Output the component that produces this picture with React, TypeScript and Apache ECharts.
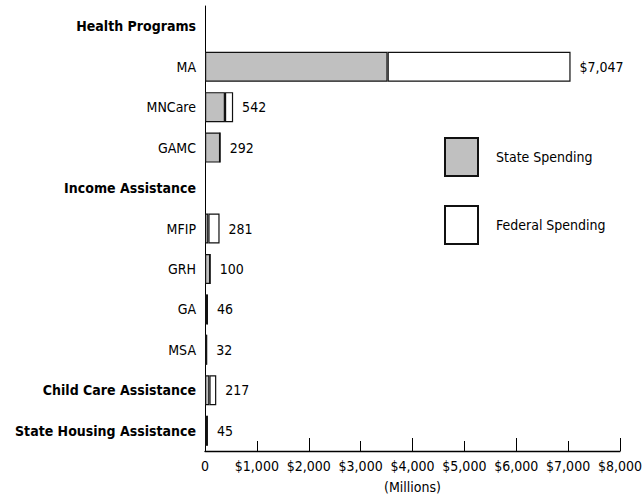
import React, { useEffect, useRef } from "react";
import * as echarts from "echarts";

const categories = [
  "Health Programs",
  "MA",
  "MNCare",
  "GAMC",
  "Income Assistance",
  "MFIP",
  "GRH",
  "GA",
  "MSA",
  "Child Care Assistance",
  "State Housing Assistance",
];
const boldCategories = [
  "Health Programs",
  "Income Assistance",
  "Child Care Assistance",
  "State Housing Assistance",
];
const stateSpending: (number | null)[] = [null, 3520, 385, 292, null, 65, 100, 46, 32, 85, 45];
const federalSpending: (number | null)[] = [null, 3527, 157, 0, null, 216, 0, 0, 0, 132, 0];
const totalLabels: (string | null)[] = [null, "$7,047", "542", "292", null, "281", "100", "46", "32", "217", "45"];
const xTickLabels: Record<number, string> = {
  0: "0",
  1000: "$1,000",
  2000: "$2,000",
  3000: "$3,000",
  4000: "$4,000",
  5000: "$5,000",
  6000: "$6,000",
  7000: "$7,000",
  8000: "$8,000",
};

const FONT = "'DejaVu Sans Condensed', 'Liberation Sans Narrow', sans-serif";

export default function App() {
  const ref = useRef<HTMLDivElement>(null);
  useEffect(() => {
    if (!ref.current) return;
    const chart = echarts.init(ref.current, undefined, { renderer: "svg" });
    chart.setOption({
      animation: false,
      backgroundColor: "#ffffff",
      textStyle: { fontFamily: FONT },
      grid: {
        left: 205,
        right: 24,
        top: 6,
        bottom: 47,
        containLabel: false,
        outerBoundsMode: "none",
      },
      legend: {
        orient: "vertical",
        left: 444,
        top: 137,
        padding: 0,
        itemWidth: 33,
        itemHeight: 38,
        itemGap: 28,
        icon: "rect",
        textStyle: { fontFamily: FONT, fontSize: 14, color: "#000", padding: [0, 0, 0, 13] },
        data: ["State Spending", "Federal Spending"],
      },
      xAxis: [
        {
          type: "value",
          min: 0,
          max: 8000,
          interval: 1000,
          name: "(Millions)",
          nameLocation: "middle",
          nameGap: 29,
          nameTextStyle: { fontFamily: FONT, fontSize: 14, color: "#000" },
          axisLine: { show: true, lineStyle: { color: "#000", width: 1.3 } },
          axisTick: { show: true, inside: true, length: 10, lineStyle: { color: "#000" } },
          axisLabel: {
            fontFamily: FONT,
            fontSize: 14,
            color: "#000",
            margin: 8,
            formatter: (v: number) => xTickLabels[v] ?? "",
          },
          splitLine: { show: false },
        },
        {
          type: "value",
          position: "bottom",
          min: 0,
          max: 8000,
          interval: 2000,
          axisLine: { show: false },
          axisTick: { show: true, inside: true, length: 13, lineStyle: { color: "#000" } },
          axisLabel: { show: false },
          splitLine: { show: false },
        },
      ],
      yAxis: {
        type: "category",
        inverse: true,
        data: categories,
        axisLine: { show: true, lineStyle: { color: "#000", width: 1 } },
        axisTick: { show: false },
        axisLabel: {
          margin: 9,
          formatter: (v: string) =>
            boldCategories.includes(v) ? `{b|${v}}` : `{n|${v}}`,
          rich: {
            b: { fontFamily: FONT, fontSize: 14, fontWeight: "bold", color: "#000" },
            n: { fontFamily: FONT, fontSize: 14, color: "#000" },
          },
        },
      },
      series: [
        {
          name: "State Spending",
          type: "bar",
          stack: "total",
          barWidth: 30,
          xAxisIndex: 0,
          data: stateSpending.map((v) => (v === null ? "-" : v)),
          itemStyle: { color: "#c0c0c0", borderColor: "#111", borderWidth: 1.2 },
        },
        {
          name: "Federal Spending",
          type: "bar",
          stack: "total",
          barWidth: 30,
          xAxisIndex: 0,
          data: federalSpending.map((v) => (v === null ? "-" : v)),
          itemStyle: { color: "#ffffff", borderColor: "#111", borderWidth: 1.2 },
          label: {
            show: true,
            position: "right",
            distance: 9,
            fontFamily: FONT,
            fontSize: 14,
            color: "#000",
            formatter: (p: any) => totalLabels[p.dataIndex] ?? "",
          },
        },
      ],
    });
    return () => chart.dispose();
  }, []);
  return <div ref={ref} style={{ width: 644, height: 498, position: "absolute", left: 0, top: 0 }} />;
}
